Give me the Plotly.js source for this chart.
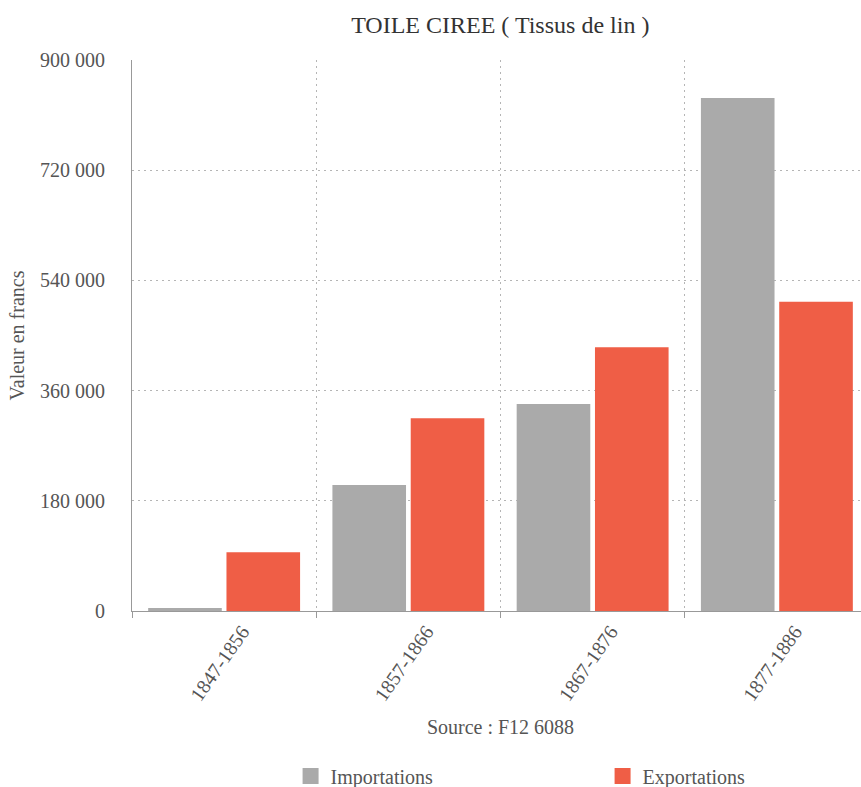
<!DOCTYPE html>
<html>
<head>
<meta charset="utf-8">
<script src="https://cdn.plot.ly/plotly-3.0.1.min.js"></script>
<style>html,body{margin:0;padding:0;background:#fff;overflow:hidden;}#chart{width:870px;height:787px;}</style>
</head>
<body>
<div id="chart"></div>
<script>
const categories = ["1847-1856", "1857-1866", "1867-1876", "1877-1886"];
const importations = [5000, 206000, 338000, 838000];
const exportations = [96000, 315000, 431000, 505000];
const yTicks = [0, 180000, 360000, 540000, 720000, 900000];
const seriesNames = ["Importations", "Exportations"];
const seriesColors = ["#aaaaaa", "#ef5e46"];

const fontFam = "Liberation Serif, Times New Roman, serif";
const txt = "#555";
const traces = [
  {type: "bar", name: seriesNames[0], x: categories, y: importations,
   marker: {color: seriesColors[0]}, showlegend: false},
  {type: "bar", name: seriesNames[1], x: categories, y: exportations,
   marker: {color: seriesColors[1]}, showlegend: false},
  // legend entries (no data drawn)
  {type: "scatter", mode: "markers", name: seriesNames[0], x: [null], y: [null],
   marker: {symbol: "square", size: 19, color: seriesColors[0]}, showlegend: true},
  {type: "scatter", mode: "markers", name: seriesNames[1], x: [null], y: [null],
   marker: {symbol: "square", size: 19, color: seriesColors[1]}, showlegend: true}
];
const layout = {
  width: 870, height: 787,
  margin: {l: 132, r: 1, t: 60, b: 176},
  paper_bgcolor: "#fff", plot_bgcolor: "#fff",
  font: {family: fontFam, color: txt, size: 20},
  title: {text: "TOILE CIREE ( Tissus de lin )", xref: "container", x: 0.575, xanchor: "center", y: 0.969, yanchor: "middle",
          font: {family: fontFam, size: 24, color: "#333"}},
  barmode: "group", bargap: 0.15, bargroupgap: 0.06,
  xaxis: {
    type: "category", tickson: "boundaries", showgrid: true, gridcolor: "#b5b5b5", griddash: "2px,4px", gridwidth: 1,
    showline: true, linecolor: "#999", linewidth: 1,
    ticks: "outside", ticklen: 6, tickcolor: "#999",
    tickangle: -55, ticklabelshift: 18, tickfont: {family: fontFam, size: 20, color: txt},
    title: {text: "Source : F12 6088", standoff: 15, font: {family: fontFam, size: 20, color: txt}},
    zeroline: false, fixedrange: true
  },
  yaxis: {
    range: [0, 900000], tickvals: yTicks, tickformat: ",d",
    showgrid: true, gridcolor: "#b5b5b5", griddash: "2px,4px", gridwidth: 1,
    showline: true, linecolor: "#999", linewidth: 1, zeroline: false,
    ticks: "", ticklabelstandoff: 22,
    tickfont: {family: fontFam, size: 20, color: txt},
    title: {text: "Valeur en francs", standoff: 10, font: {family: fontFam, size: 20, color: txt}},
    fixedrange: true
  },
  separators: ", ",
  showlegend: true,
  legend: {orientation: "h", xref: "container", yref: "container", x: 0.334, xanchor: "left", y: 0.014, yanchor: "middle",
           entrywidth: 267, entrywidthmode: "pixels", font: {family: fontFam, size: 20, color: txt},
           itemsizing: "trace", traceorder: "normal"}
};
Plotly.newPlot("chart", traces, layout, {displayModeBar: false, staticPlot: true});
</script>
</body>
</html>
